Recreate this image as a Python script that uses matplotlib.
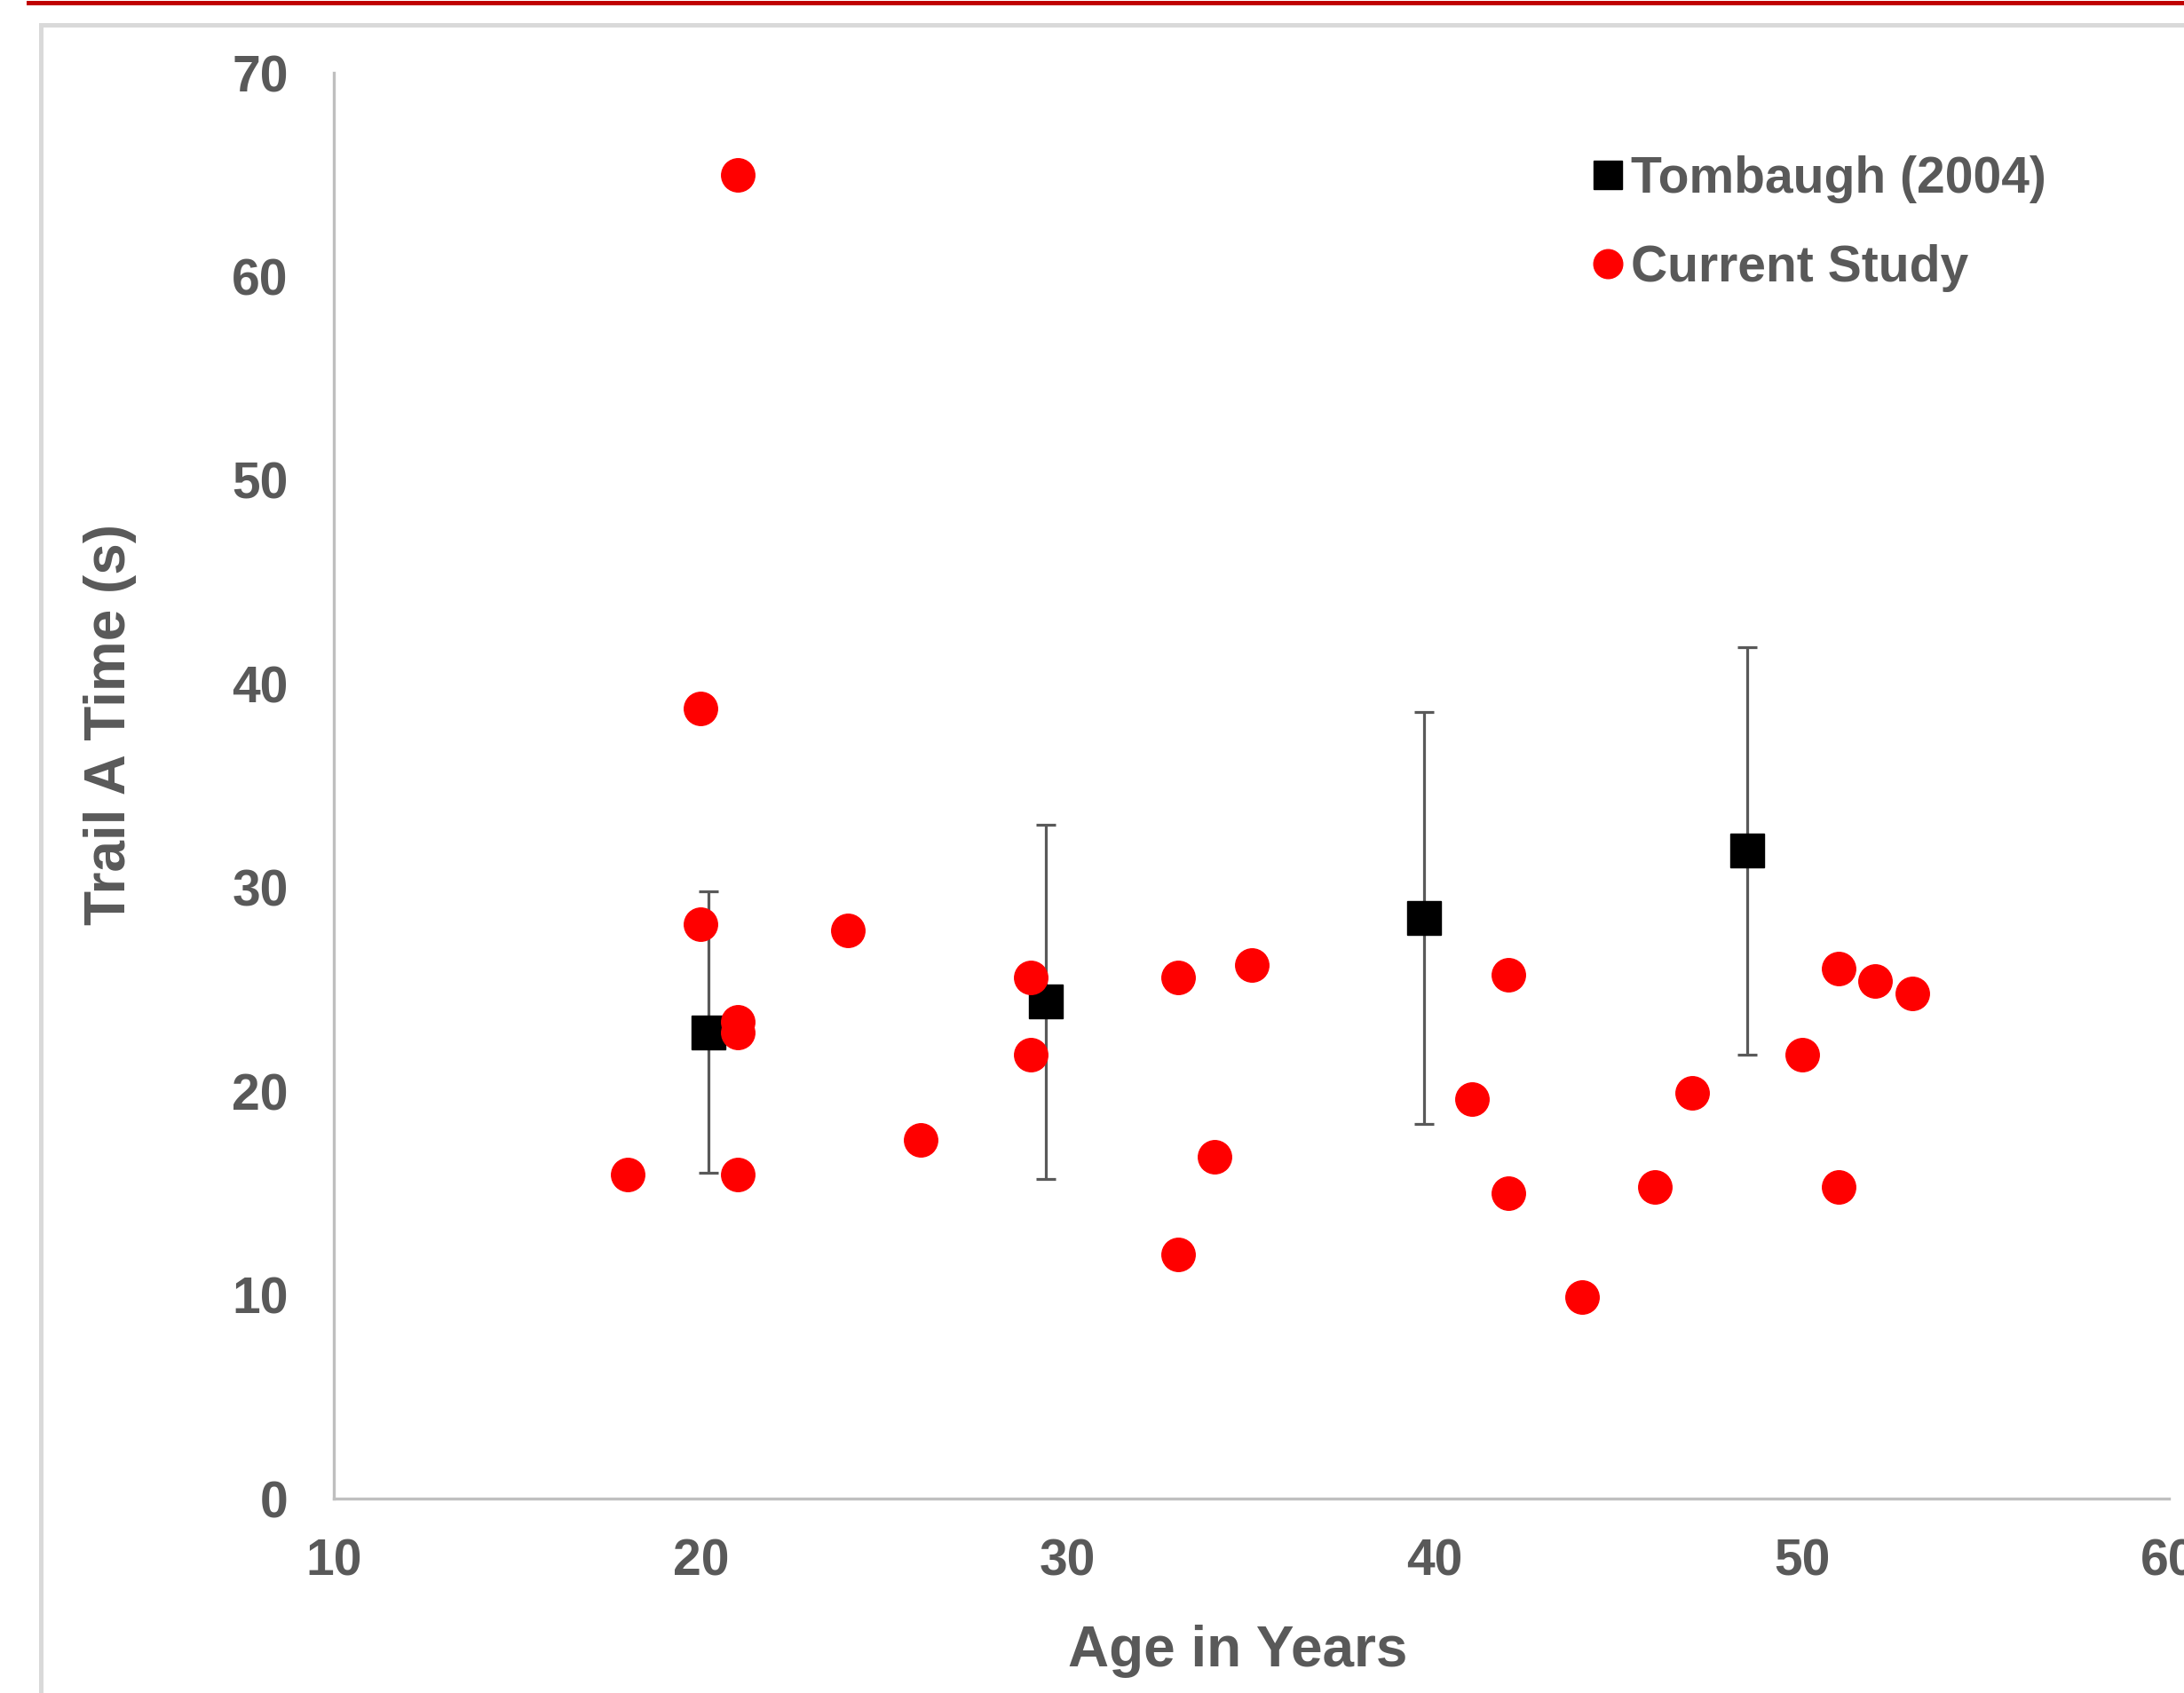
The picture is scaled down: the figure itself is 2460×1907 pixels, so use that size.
"""
Trail A time vs age: Tombaugh (2004) norms and current study
"""
import matplotlib
matplotlib.use("Agg")
import matplotlib.pyplot as plt
from matplotlib.lines import Line2D

# ── data ──
tomb_age = [20.2, 29.4, 39.7, 48.5]
tomb_mean = [22.9, 24.4, 28.5, 31.8]
tomb_sd = [6.9, 8.7, 10.1, 10.0]

study_age = [18, 20, 20, 21, 21, 21, 21, 24, 26, 29, 29, 33, 33, 34, 35,
             41, 42, 42, 44, 46, 47, 50, 51, 51, 52, 53]
study_time = [15.9, 38.8, 28.2, 65.0, 23.4, 22.9, 15.9, 27.9, 17.6, 25.6, 21.8, 25.6, 12.0, 16.8, 26.2,
              19.6, 25.7, 15.0, 9.9, 15.3, 19.9, 21.8, 26.0, 15.3, 25.4, 24.8]

x_ticks = [10, 20, 30, 40, 50, 60]
y_ticks = [0, 10, 20, 30, 40, 50, 60, 70]

TXT = "#595959"
plt.rcParams["font.family"] = ["Liberation Sans", "DejaVu Sans"]
plt.rcParams["font.weight"] = "bold"

W, H = 2460, 1907
fig = plt.figure(figsize=(W / 100, H / 100), dpi=100, facecolor="white")

# ── frame decorations (red band, light grey box) ──
fig.add_artist(Line2D([32 / W, 1], [1 - 2.5 / H, 1 - 2.5 / H], color="#c00000",
                      linewidth=5 * 0.72, transform=fig.transFigure))
fig.add_artist(Line2D([46 / W, 1.01], [1 - 27.5 / H, 1 - 27.5 / H], color="#d9d9d9",
                      linewidth=5 * 0.72, transform=fig.transFigure))
fig.add_artist(Line2D([46 / W, 46 / W], [1 - 27.5 / H, -0.01], color="#d9d9d9",
                      linewidth=5 * 0.72, transform=fig.transFigure))

ax = fig.add_axes([376 / W, 1 - 1688 / H, (2443 - 376) / W, (1688 - 82) / H])

# ── marks ──
eb = ax.errorbar(tomb_age, tomb_mean, yerr=tomb_sd, fmt="s", color="black", markersize=27,
                 ecolor=TXT, elinewidth=2.3, capsize=8, capthick=2.3, zorder=3)
pts, = ax.plot(study_age, study_time, "o", color="#ff0000", markersize=27, linestyle="none",
               zorder=4)

# ── axes ──
ax.set_xlim(10, 60)
ax.set_ylim(0, 70)
ax.set_xticks(x_ticks)
ax.set_yticks(y_ticks)
for s in ["top", "right"]:
    ax.spines[s].set_visible(False)
for s in ["left", "bottom"]:
    ax.spines[s].set_color("#bfbfbf")
    ax.spines[s].set_linewidth(2.4)
ax.tick_params(axis="both", length=0, labelsize=41, labelcolor=TXT)
ax.tick_params(axis="y", pad=37)
ax.tick_params(axis="x", pad=32)
for lab in ax.get_xticklabels() + ax.get_yticklabels():
    lab.set_fontweight("bold")

ax.set_xlabel("Age in Years", fontsize=46, color=TXT, fontweight="bold")
ax.xaxis.set_label_coords(0.4925, -0.1177)
ax.xaxis.label.set_va("baseline")
ax.set_ylabel("Trail A Time (s)", fontsize=46, color=TXT, fontweight="bold")
ax.yaxis.set_label_coords(-0.122, 0.543)
ax.yaxis.label.set_va("center")

# ── legend (marker only, no error bar in key) ──
leg = ax.legend([eb[0], pts], ["Tombaugh (2004)", "Current Study"], loc="upper left",
                bbox_to_anchor=(0.686, 0.942), frameon=False,
                fontsize=41, handlelength=0.6, handletextpad=0.15, labelspacing=0.8,
                borderpad=0, borderaxespad=0, markerscale=0.87)
for t in leg.get_texts():
    t.set_color(TXT)
    t.set_fontweight("bold")

fig.savefig("out.png", dpi=100, facecolor="white")
